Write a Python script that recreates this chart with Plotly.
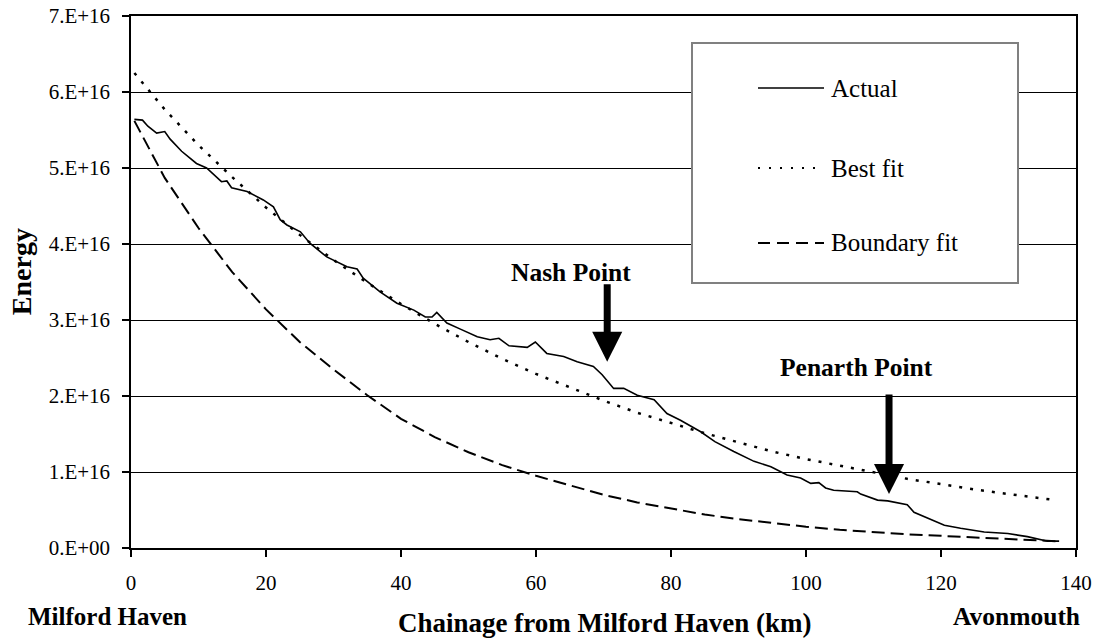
import plotly.graph_objects as go

# Chainage (km) and energy (x1e16) along the coast
actual_km = [0.5, 1.7, 2.5, 3.8, 5.0, 5.8, 7.5, 9.7, 11.2, 13.4, 14.2, 14.9, 17.2, 19.6,
             21.1, 22.1, 23.1, 25.1, 26.5, 29.0, 32.0, 33.5, 34.4, 36.9, 39.4, 41.9,
             43.6, 44.6, 45.3, 46.8, 48.8, 51.3, 53.2, 54.5, 56.0, 58.7, 59.9, 61.6,
             64.1, 66.1, 68.5, 69.8, 71.5, 73.0, 75.0, 77.5, 79.4, 81.4, 84.4, 86.5,
             89.3, 92.3, 94.8, 97.2, 99.2, 100.7, 101.9, 102.9, 104.1, 105.6, 107.6,
             108.1, 110.6, 112.1, 115.0, 116.0, 118.0, 120.5, 122.9, 126.4, 129.9,
             132.8, 135.8, 137.5]
actual_energy = [5.64, 5.63, 5.55, 5.46, 5.48, 5.38, 5.22, 5.06, 5.00, 4.82, 4.83, 4.74,
                 4.69, 4.58, 4.49, 4.32, 4.25, 4.16, 4.01, 3.83, 3.70, 3.67, 3.55, 3.37,
                 3.22, 3.13, 3.04, 3.04, 3.10, 2.96, 2.88, 2.78, 2.74, 2.76, 2.66, 2.64,
                 2.71, 2.56, 2.52, 2.45, 2.39, 2.28, 2.10, 2.10, 2.01, 1.95, 1.77, 1.68,
                 1.53, 1.40, 1.27, 1.14, 1.07, 0.96, 0.92, 0.85, 0.86, 0.79, 0.76, 0.75,
                 0.74, 0.71, 0.63, 0.62, 0.57, 0.47, 0.39, 0.30, 0.26, 0.21, 0.19, 0.15,
                 0.09, 0.09]

fit_km = [0.5, 5, 10, 15, 20, 25, 30, 35, 40, 45, 50, 55, 60, 65, 70, 75, 80, 85, 90,
          95, 100, 105, 110, 115, 120, 125, 130, 135, 137]
best_fit = [6.25, 5.77, 5.30, 4.88, 4.48, 4.12, 3.79, 3.49, 3.21, 2.95, 2.71, 2.49, 2.29,
            2.11, 1.94, 1.78, 1.64, 1.51, 1.39, 1.27, 1.17, 1.08, 0.99, 0.91, 0.84, 0.77,
            0.71, 0.65, 0.63]
boundary_fit = [5.62, 4.87, 4.21, 3.63, 3.14, 2.71, 2.35, 2.01, 1.70, 1.46, 1.26, 1.09,
                0.95, 0.82, 0.70, 0.60, 0.52, 0.44, 0.38, 0.33, 0.28, 0.24, 0.21, 0.18,
                0.16, 0.14, 0.12, 0.10, 0.09]

SCALE = 1e16
x_ticks = [0, 20, 40, 60, 80, 100, 120, 140]
y_ticks = [0, 1, 2, 3, 4, 5, 6, 7]
y_tick_text = ["0.E+00", "1.E+16", "2.E+16", "3.E+16", "4.E+16", "5.E+16", "6.E+16", "7.E+16"]

# Labelled headlands: (name, km, energy at arrow tip)
headlands = [("Nash Point", 70.55, 2.45), ("Penarth Point", 112.3, 0.71)]

FONT = "'Liberation Serif', Tinos, 'Times New Roman', 'DejaVu Serif', serif"

fig = go.Figure()
fig.add_trace(go.Scatter(x=fit_km, y=[v * SCALE for v in boundary_fit], mode="lines",
                         line=dict(color="black", width=2, dash="13px,6px"),
                         name="Boundary fit", showlegend=False))
fig.add_trace(go.Scatter(x=fit_km, y=[v * SCALE for v in best_fit], mode="lines",
                         line=dict(color="black", width=2.5, dash="3px,8px"),
                         name="Best fit", showlegend=False))
fig.add_trace(go.Scatter(x=actual_km, y=[v * SCALE for v in actual_energy], mode="lines",
                         line=dict(color="black", width=1.6),
                         name="Actual", showlegend=False))

# Plot-area geometry (pixels) used for paper-space placement
L, R, T, B = 131, 1076, 16, 548
def px(xp):
    return (xp - L) / (R - L)
def py(yp):
    return (B - yp) / (B - T)

annotations = []
# Headland arrows and labels
arrow_lengths = [79, 101]
label_pos = [(65.2, 3.62), (107.5, 2.37)]
for (name, km, e), alen, (lx, ly) in zip(headlands, arrow_lengths, label_pos):
    annotations.append(dict(x=km, y=e * SCALE, xref="x", yref="y", text="",
                            showarrow=True, arrowhead=2, arrowwidth=7, arrowsize=0.86,
                            arrowcolor="black", ax=0, ay=-alen, standoff=0))
    annotations.append(dict(x=lx, y=ly * SCALE, xref="x", yref="y", text=f"<b>{name}</b>",
                            showarrow=False, font=dict(family=FONT, size=25.5, color="black"),
                            xanchor="center", yanchor="middle"))

# Axis titles and end-point names
annotations += [
    dict(x=px(21.7), y=py(271.5), xref="paper", yref="paper", text="<b>Energy</b>",
         textangle=-90, showarrow=False, font=dict(family=FONT, size=28, color="black"),
         xanchor="center", yanchor="middle"),
    dict(x=px(604), y=py(623), xref="paper", yref="paper",
         text="<b>Chainage from Milford Haven (km)</b>", showarrow=False,
         font=dict(family=FONT, size=27, color="black"), xanchor="center", yanchor="middle"),
    dict(x=px(107.5), y=py(616), xref="paper", yref="paper", text="<b>Milford Haven</b>",
         showarrow=False, font=dict(family=FONT, size=25, color="black"),
         xanchor="center", yanchor="middle"),
    dict(x=px(1016), y=py(616), xref="paper", yref="paper", text="<b>Avonmouth</b>",
         showarrow=False, font=dict(family=FONT, size=25.5, color="black"),
         xanchor="center", yanchor="middle"),
]

# Legend box with line samples
legend_items = [("Actual", None, 1.3, 88), ("Best fit", "2px,9px", 2, 168),
                ("Boundary fit", "12px,7px", 2, 243)]
shapes = [dict(type="rect", xref="paper", yref="paper", x0=px(692), x1=px(1018),
               y0=py(283), y1=py(43), fillcolor="white",
               line=dict(color="#808080", width=2), layer="above")]
for label, dash, w, yy in legend_items:
    ln = dict(color="black", width=w)
    if dash:
        ln["dash"] = dash
    shapes.append(dict(type="line", xref="paper", yref="paper", x0=px(758), x1=px(824),
                       y0=py(yy), y1=py(yy), line=ln, layer="above"))
    annotations.append(dict(x=px(829), y=py(yy), xref="paper", yref="paper", text=label,
                            showarrow=False, font=dict(family=FONT, size=25, color="black"),
                            xanchor="left", yanchor="middle"))

fig.update_layout(
    width=1094, height=642,
    margin=dict(l=L, r=1094 - R, t=T, b=642 - B, autoexpand=False),
    paper_bgcolor="white", plot_bgcolor="white",
    font=dict(family=FONT, size=21, color="black"),
    showlegend=False,
    annotations=annotations,
    shapes=shapes,
)
fig.update_xaxes(range=[0, 140], tickvals=x_ticks, ticks="outside", ticklen=7,
                 tickwidth=1.5, tickcolor="black", showline=True, linecolor="black",
                 linewidth=1.5, mirror=True, showgrid=False, zeroline=False,
                 ticklabelstandoff=8, tickfont=dict(family=FONT, size=21))
fig.update_yaxes(range=[0, 7 * SCALE], tickvals=[v * SCALE for v in y_ticks],
                 ticktext=y_tick_text, ticks="outside", ticklen=7, tickwidth=1.5,
                 tickcolor="black", showline=True, linecolor="black", linewidth=1.5,
                 mirror=True, showgrid=True, gridcolor="black", gridwidth=1,
                 zeroline=False, ticklabelstandoff=8, tickfont=dict(family=FONT, size=21))

fig.write_html("out.html")
